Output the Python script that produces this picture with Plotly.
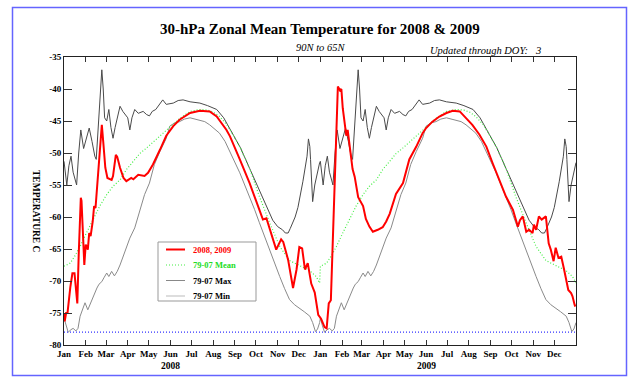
import pandas as pd
import plotly.graph_objects as go

# ---------------- data ----------------
# 1979-2007 climatology, nodes given as day-of-year (0 = 1 Jan)
max_doy = [0, 2, 4, 7, 10, 13, 16, 18, 21, 24,
           28, 32, 36, 40, 44, 46, 49, 52, 54, 56,
           58, 61, 64, 67, 70, 73, 76, 80, 84, 87,
           91, 94, 97, 101, 106, 113, 118, 122, 126, 131,
           136, 141, 146, 151, 156, 163, 170, 180, 194, 205,
           218, 228, 237, 244, 252, 265, 275, 284, 291, 298,
           305, 312, 316, 320, 323, 327, 330, 334, 338, 341,
           344, 347, 349, 351, 352, 355, 358, 360, 363, 365]
max_val = [-51.3, -53, -55, -52, -50.5, -53, -54, -55, -50, -46.4,
           -49.3, -47.5, -46.1, -48.2, -50.5, -51, -46, -40, -37, -40,
           -44.5, -45, -43.2, -46, -47.7, -46, -44.5, -42.7, -43.5, -43.9,
           -44.5, -46.4, -44.5, -43.2, -43.8, -43.5, -44, -44.2, -43.5, -43.2,
           -42.5, -41.7, -42.4, -42.3, -42.2, -41.8, -41.7, -42, -42.2, -42.6,
           -43.2, -44.5, -46.2, -47.6, -49.2, -52.4, -54.8, -57, -58.8, -60.5,
           -61.5, -62, -62.5, -62.5, -61.8, -60.9, -60, -58.5, -56.5, -54.5,
           -52.5, -50.5, -47.8, -49, -51, -57.6, -55, -53.9, -52.5, -51.5]

min_doy = [0, 3, 6, 10, 13, 17, 20, 23, 25, 30,
           34, 39, 43, 47, 50, 54, 57, 61, 64, 68,
           72, 76, 80, 87, 94, 101, 108, 115, 122, 129,
           137, 146, 151, 158, 165, 172, 180, 187, 194, 201,
           208, 215, 222, 230, 237, 244, 251, 258, 265, 272,
           279, 286, 294, 301, 308, 315, 322, 329, 336, 343,
           351, 355, 359, 362, 365]
min_val = [-75.8, -77, -78, -77.6, -77.4, -77.8, -77.4, -75.5, -74.8, -73.4,
           -74.5, -73.2, -72, -71.1, -70.5, -70.1, -69.5, -68.75, -69.3, -68.5,
           -69.2, -68.5, -67.5, -65.4, -63.3, -61.7, -59.1, -56.5, -54.7, -51.8,
           -49.75, -47.7, -45.8, -45.3, -45.1, -44.7, -44.5, -44.7, -44.8, -45.1,
           -45.6, -46.2, -46.9, -48.2, -49.8, -51.4, -53.1, -55, -56.8, -58.8,
           -60.9, -63, -65.1, -67.2, -69.3, -71.2, -72.9, -73.7, -74.2, -74.8,
           -75.5, -76.5, -77.9, -77.5, -76.5]

mean_doy = [0, 9, 16, 23, 32, 42, 51, 61, 70, 80,
            89, 99, 108, 118, 127, 137, 146, 155, 165, 180,
            194, 205, 213, 222, 232, 240, 251, 265, 279, 294,
            308, 322, 336, 351, 360, 365]
mean_val = [-67.7, -67.2, -66, -64.6, -62.5, -60.2, -58.3, -56.5, -55.2, -54.2,
            -52.6, -51.3, -50.1, -49.2, -48.3, -47.4, -46.5, -45.6, -44.6, -43.5,
            -43.2, -43.3, -43.6, -44.3, -45.5, -46.9, -49, -52.4, -56.8, -61,
            -64.6, -66.8, -67.6, -68.4, -69.3, -70.3]

# observed 2008-2009, nodes given as days since 1 Jan 2008
obs_day = [0, 1, 3, 5, 9, 12, 15, 18, 19, 21,
           24, 25, 28, 29, 31, 34, 36, 38, 41, 43,
           45, 47, 50, 54, 56, 59, 62, 68, 70, 74,
           76, 80, 85, 89, 96, 99, 106, 115, 120, 127,
           137, 146, 156, 165, 180, 194, 208, 218, 232, 237,
           251, 265, 279, 284, 289, 294, 303, 310, 313, 320,
           327, 332, 336, 340, 344, 348, 353, 358, 363, 367,
           372, 375, 378, 381, 384, 386, 389, 391, 394, 396,
           398, 401, 403, 405, 409, 412, 415, 420, 427, 431,
           436, 441, 448, 455, 460, 465, 474, 484, 493, 503,
           512, 517, 526, 536, 546, 555, 565, 574, 583, 593,
           603, 612, 622, 631, 641, 648, 651, 655, 660, 664,
           669, 671, 674, 678, 682, 688, 692, 695, 699, 702,
           706, 710, 714, 717, 720, 724, 726, 729, 730]
obs_val = [-75, -76.3, -75, -75, -71, -68.8, -68.8, -73.2, -73.5, -65.9,
           -57, -57.5, -63.8, -67.5, -64.3, -65.1, -62.5, -63, -60.7, -58.3,
           -58.6, -55.5, -51.8, -45.6, -48.2, -52.3, -53.9, -54.2, -53.6, -50.3,
           -50.6, -52.3, -53.9, -54.4, -53.9, -54.1, -53.4, -53.6, -53.1, -51.8,
           -49.5, -47.3, -45.8, -44.8, -43.75, -43.4, -43.5, -44.3, -46.4, -47.4,
           -51, -54.7, -58.9, -60.4, -60.2, -62, -65.1, -63.5, -63.9, -66.7,
           -71.1, -68.2, -64.7, -64.9, -68.2, -67.2, -70.4, -71.8, -75.3, -75.9,
           -77.2, -77.4, -73.5, -73, -63, -54.7, -45, -39.6, -40.2, -40,
           -43, -45.5, -47.3, -46.4, -50.1, -52.5, -53.7, -56.9, -58.3, -60.3,
           -61.5, -62.3, -62, -61.6, -60.7, -59.5, -56.4, -54.7, -51, -49,
           -46.9, -46.1, -45.1, -44.3, -43.75, -43.4, -43.5, -44.5, -45.6, -47.1,
           -49, -51.6, -54.2, -56.8, -58.9, -61.5, -60.5, -59.9, -62.3, -62,
           -62.5, -61.2, -62, -59.9, -60.4, -59.9, -64.1, -65.1, -66.9, -64.8,
           -66.4, -66.2, -68.2, -69.8, -71.4, -71.9, -72.4, -73.7, -74]

month_names = ["Jan", "Feb", "Mar", "Apr", "May", "Jun",
               "Jul", "Aug", "Sep", "Oct", "Nov", "Dec"]
years = ["2008", "2009"]
y_tickvals = [-35, -40, -45, -50, -55, -60, -65, -70, -75, -80]
y_ticktext = ["-35", "-40", "-45", "-50", "-55", "-60", "-65", "-70", "-75", "-80"]
threshold = -78

# ---------------- derived calendar positions ----------------
base = pd.Timestamp("2008-01-01")
year_start = [(pd.Timestamp(f"{y}-01-01") - base).days for y in years]
month_starts = pd.date_range("2008-01-01", "2009-12-01", freq="MS")
tickvals = [(d - base).days for d in month_starts]
ticktext = [month_names[d.month - 1] for d in month_starts]
x_end = (pd.Timestamp("2010-01-01") - base).days
jun_pos = [(pd.Timestamp(f"{y}-06-01") - base).days for y in years]


def two_years(doy, vals):
    xs, ys = [], []
    for ys0 in year_start:
        xs += [ys0 + d for d in doy]
        ys += list(vals)
    return xs, ys


mx_x, mx_y = two_years(max_doy, max_val)
mn_x, mn_y = two_years(min_doy, min_val)
me_x, me_y = two_years(mean_doy, mean_val)

C_RED = "#ff0000"
C_GREEN = "#44ee44"
C_MAX = "#4a4a4a"
C_MIN = "#8a8a8a"
SERIF = "Liberation Serif"

fig = go.Figure()
fig.add_trace(go.Scatter(x=mn_x, y=mn_y, mode="lines", line=dict(color=C_MIN, width=1),
                         name="79-07 Min", showlegend=False))
fig.add_trace(go.Scatter(x=mx_x, y=mx_y, mode="lines", line=dict(color=C_MAX, width=1),
                         name="79-07 Max", showlegend=False))
fig.add_trace(go.Scatter(x=me_x, y=me_y, mode="lines",
                         line=dict(color=C_GREEN, width=1.2, dash="1px,2px"),
                         name="79-07 Mean", showlegend=False))
fig.add_trace(go.Scatter(x=obs_day, y=obs_val, mode="lines", line=dict(color=C_RED, width=2),
                         name="2008, 2009", showlegend=False))
fig.add_hline(y=threshold, line=dict(color="#3333ff", width=1.2, dash="1px,2px"))

# figure in pixels; margins zero, plot area placed with axis domains
W, H = 640, 384
PL, PR, PT, PB = 64, 576, 57, 345


def px(x):
    return x / W


def py(y):
    return 1 - y / H


shapes = [
    dict(type="rect", xref="paper", yref="paper", x0=px(5.5), x1=px(633.5), y0=py(380), y1=py(4.5),
         line=dict(color="rgb(255,140,140)", width=2), layer="above"),
    dict(type="rect", xref="paper", yref="paper", x0=px(12.5), x1=px(626.5), y0=py(375.5), y1=py(7.5),
         line=dict(color="rgb(100,100,255)", width=1.5), layer="above"),
    # legend box
    dict(type="rect", xref="paper", yref="paper", x0=px(158), x1=px(256), y0=py(301), y1=py(242),
         line=dict(color="#999999", width=1), fillcolor="white", layer="above"),
]
legend_items = [("2008, 2009", C_RED, C_RED, 2, "solid"),
                ("79-07 Mean", "#22dd22", C_GREEN, 1.2, "1px,2px"),
                ("79-07 Max", "#000000", "#888888", 1, "solid"),
                ("79-07 Min", "#000000", "#bbbbbb", 1, "solid")]
annotations = []
for i, (lab, tcol, lcol, lw, dash) in enumerate(legend_items):
    yy = 249.5 + i * 15.5
    shapes.append(dict(type="line", xref="paper", yref="paper", x0=px(166), x1=px(185),
                       y0=py(yy), y1=py(yy), line=dict(color=lcol, width=lw, dash=dash), layer="above"))
    annotations.append(dict(text=lab, xref="paper", yref="paper", x=px(191), y=py(yy),
                            xanchor="left", yanchor="middle", showarrow=False,
                            font=dict(family=SERIF, size=8.5, color=tcol, weight="bold")))

annotations += [
    dict(text="30-hPa Zonal Mean Temperature for 2008 & 2009", xref="paper", yref="paper",
         x=px(320), y=py(29), xanchor="center", yanchor="middle", showarrow=False,
         font=dict(family=SERIF, size=15, color="black", weight="bold")),
    dict(text="<i>90N to 65N</i>", xref="paper", yref="paper",
         x=px(320), y=py(47.5), xanchor="center", yanchor="middle", showarrow=False,
         font=dict(family=SERIF, size=10.5, color="black")),
    dict(text="<i>Updated through DOY:\u00a0\u00a0\u00a03</i>", xref="paper", yref="paper",
         x=px(428), y=py(50), xanchor="left", yanchor="middle", showarrow=False,
         font=dict(family=SERIF, size=10.5, color="black")),
    dict(text="TEMPERATURE C", xref="paper", yref="paper", textangle=90,
         x=px(36), y=py(211), xanchor="center", yanchor="middle", showarrow=False,
         font=dict(family=SERIF, size=9.5, color="black", weight="bold")),
]
for yl, xp in zip(years, jun_pos):
    annotations.append(dict(text=yl, xref="x", yref="paper", x=xp, y=py(365.5),
                            xanchor="center", yanchor="middle", showarrow=False,
                            font=dict(family=SERIF, size=9.5, color="black", weight="bold")))

fig.update_layout(
    width=W, height=H, margin=dict(l=0, r=0, t=0, b=0, autoexpand=False),
    paper_bgcolor="white", plot_bgcolor="white",
    showlegend=False, shapes=shapes, annotations=annotations,
    xaxis=dict(domain=[px(PL), px(PR)], range=[0, x_end], tickvals=tickvals, ticktext=ticktext,
               automargin=False,
               ticks="inside", ticklen=5, tickcolor="#333", showline=True, linecolor="#222",
               linewidth=1, mirror="ticks", showgrid=False, zeroline=False,
               tickfont=dict(family=SERIF, size=9, color="black", weight="bold")),
    yaxis=dict(domain=[py(PB), py(PT)], range=[-80, -35], tickvals=y_tickvals, ticktext=y_ticktext,
               automargin=False,
               ticks="inside", ticklen=8, tickcolor="#333", showline=True, linecolor="#222",
               linewidth=1, mirror="ticks", showgrid=False, zeroline=False,
               tickfont=dict(family=SERIF, size=9, color="black", weight="bold")),
)

fig.write_html("out.html", config={"displayModeBar": False},
               post_script="document.body.style.margin='0';")
